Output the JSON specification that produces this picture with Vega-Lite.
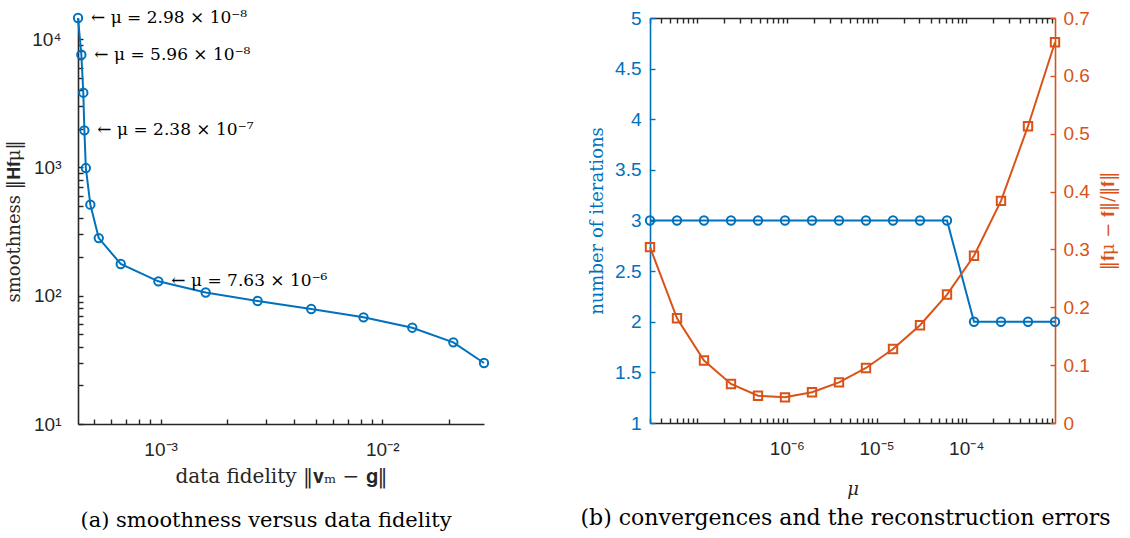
{
  "$schema": "https://vega.github.io/schema/vega-lite/v6.json",
  "background": "white",
  "padding": {"left": 5, "top": 9, "right": 5, "bottom": 5},
  "bounds": "flush",
  "spacing": 166,
  "config": {
    "view": {"stroke": null},
    "axis": {
      "grid": false,
      "domainColor": "#262626",
      "tickColor": "#262626",
      "labelColor": "#262626",
      "titleColor": "#262626",
      "domainWidth": 1.6,
      "tickWidth": 1.4,
      "tickSize": -5,
      "labelFont": "Liberation Sans",
      "labelFontSize": 19,
      "titleFont": "DejaVu Serif",
      "titleFontSize": 18,
      "titleFontWeight": "normal",
      "labelOverlap": false,
      "labelFlush": false
    }
  },
  "datasets": {
    "lcurve": [
      {"fidelity": 0.000424, "smoothness": 14590, "label": "← μ = 2.98 × 10⁻⁸"},
      {"fidelity": 0.000439, "smoothness": 7550, "label": "← μ = 5.96 × 10⁻⁸"},
      {"fidelity": 0.000448, "smoothness": 3818, "label": ""},
      {"fidelity": 0.000453, "smoothness": 1944, "label": "← μ = 2.38 × 10⁻⁷"},
      {"fidelity": 0.000460, "smoothness": 988, "label": ""},
      {"fidelity": 0.000482, "smoothness": 512, "label": ""},
      {"fidelity": 0.000526, "smoothness": 281, "label": ""},
      {"fidelity": 0.000661, "smoothness": 176.5, "label": ""},
      {"fidelity": 0.000977, "smoothness": 129.4, "label": "← μ = 7.63 × 10⁻⁶"},
      {"fidelity": 0.001597, "smoothness": 105.9, "label": ""},
      {"fidelity": 0.00274, "smoothness": 90.9, "label": ""},
      {"fidelity": 0.00478, "smoothness": 78.7, "label": ""},
      {"fidelity": 0.00823, "smoothness": 67.8, "label": ""},
      {"fidelity": 0.01366, "smoothness": 56.3, "label": ""},
      {"fidelity": 0.02092, "smoothness": 43.3, "label": ""},
      {"fidelity": 0.02877, "smoothness": 29.9, "label": ""}
    ],
    "conv": [
      {"mu": 2.980e-8, "iter": 3, "err": 0.304},
      {"mu": 5.960e-8, "iter": 3, "err": 0.181},
      {"mu": 1.192e-7, "iter": 3, "err": 0.108},
      {"mu": 2.384e-7, "iter": 3, "err": 0.0674},
      {"mu": 4.768e-7, "iter": 3, "err": 0.0472},
      {"mu": 9.537e-7, "iter": 3, "err": 0.0444},
      {"mu": 1.907e-6, "iter": 3, "err": 0.0531},
      {"mu": 3.815e-6, "iter": 3, "err": 0.0703},
      {"mu": 7.629e-6, "iter": 3, "err": 0.0951},
      {"mu": 1.526e-5, "iter": 3, "err": 0.128},
      {"mu": 3.052e-5, "iter": 3, "err": 0.169},
      {"mu": 6.104e-5, "iter": 3, "err": 0.222},
      {"mu": 1.221e-4, "iter": 2, "err": 0.289},
      {"mu": 2.441e-4, "iter": 2, "err": 0.384},
      {"mu": 4.883e-4, "iter": 2, "err": 0.513},
      {"mu": 9.766e-4, "iter": 2, "err": 0.658}
    ]
  },
  "hconcat": [
    {
      "width": 406,
      "height": 406,
      "title": {"text": "(a) smoothness versus data fidelity", "orient": "bottom", "font": "DejaVu Serif", "fontSize": 21, "fontWeight": "normal", "color": "black", "offset": 24, "dx": -15},
      "data": {"name": "lcurve"},
      "resolve": {"axis": {"x": "independent", "y": "independent"}},
      "layer": [
        {
          "mark": {"type": "line", "color": "#0072BD", "strokeWidth": 2},
          "encoding": {
            "x": {
              "field": "fidelity", "type": "quantitative",
              "scale": {"type": "log", "domain": [0.000424, 0.02877], "nice": false},
              "axis": {
                "orient": "bottom",
                "title": "data fidelity ‖𝐯ₘ − 𝐠‖",
                "titleFontSize": 20,
                "values": [0.0005, 0.0006, 0.0007, 0.0008, 0.0009, 0.001, 0.002, 0.003, 0.004, 0.005, 0.006, 0.007, 0.008, 0.009, 0.01, 0.02],
                "labelExpr": "abs(datum.value - 0.001) < 1e-9 ? '10⁻³' : abs(datum.value - 0.01) < 1e-8 ? '10⁻²' : ''",
                "labelPadding": 21,
                "titlePadding": 7
              }
            },
            "y": {
              "field": "smoothness", "type": "quantitative",
              "scale": {"type": "log", "domain": [10, 14590], "nice": false},
              "axis": {
                "orient": "left",
                "title": "smoothness ‖𝐇𝐟μ‖",
                "values": [10, 20, 30, 40, 50, 60, 70, 80, 90, 100, 200, 300, 400, 500, 600, 700, 800, 900, 1000, 2000, 3000, 4000, 5000, 6000, 7000, 8000, 9000, 10000],
                "labelExpr": "datum.value == 10 ? '10¹' : datum.value == 100 ? '10²' : datum.value == 1000 ? '10³' : datum.value == 10000 ? '10⁴' : ''",
                "labelPadding": 22,
                "titlePadding": 8
              }
            }
          }
        },
        {
          "mark": {"type": "point", "shape": "circle", "filled": false, "color": "#0072BD", "size": 70, "strokeWidth": 2, "opacity": 1},
          "encoding": {
            "x": {"field": "fidelity", "type": "quantitative", "scale": {"type": "log", "domain": [0.000424, 0.02877], "nice": false}, "axis": null},
            "y": {"field": "smoothness", "type": "quantitative", "scale": {"type": "log", "domain": [10, 14590], "nice": false}, "axis": null}
          }
        },
        {
          "transform": [{"filter": "datum.label != ''"}],
          "mark": {"type": "text", "align": "left", "baseline": "middle", "dx": 13, "font": "DejaVu Serif", "fontSize": 17, "color": "black"},
          "encoding": {
            "x": {"field": "fidelity", "type": "quantitative", "scale": {"type": "log", "domain": [0.000424, 0.02877], "nice": false}, "axis": null},
            "y": {"field": "smoothness", "type": "quantitative", "scale": {"type": "log", "domain": [10, 14590], "nice": false}, "axis": null},
            "text": {"field": "label"}
          }
        }
      ]
    },
    {
      "width": 405,
      "height": 405,
      "title": {"text": "(b) convergences and the reconstruction errors", "orient": "bottom", "font": "DejaVu Serif", "fontSize": 22, "fontWeight": "normal", "color": "black", "offset": 10, "dx": -7},
      "data": {"name": "conv"},
      "resolve": {"scale": {"y": "independent"}, "axis": {"x": "independent"}},
      "layer": [
        {
          "mark": {"type": "line", "color": "#0072BD", "strokeWidth": 2},
          "encoding": {
            "x": {
              "field": "mu", "type": "quantitative",
              "scale": {"type": "log", "domain": [2.98e-8, 9.766e-4], "nice": false},
              "axis": {
                "orient": "bottom",
                "title": "μ",
                "titleFontStyle": "italic",
                "values": [3e-8, 4e-8, 5e-8, 6e-8, 7e-8, 8e-8, 9e-8, 1e-7, 2e-7, 3e-7, 4e-7, 5e-7, 6e-7, 7e-7, 8e-7, 9e-7, 1e-6, 2e-6, 3e-6, 4e-6, 5e-6, 6e-6, 7e-6, 8e-6, 9e-6, 1e-5, 2e-5, 3e-5, 4e-5, 5e-5, 6e-5, 7e-5, 8e-5, 9e-5, 1e-4, 2e-4, 3e-4, 4e-4, 5e-4, 6e-4, 7e-4, 8e-4, 9e-4],
                "labelExpr": "abs(datum.value - 1e-6) < 1e-12 ? '10⁻⁶' : abs(datum.value - 1e-5) < 1e-11 ? '10⁻⁵' : abs(datum.value - 1e-4) < 1e-10 ? '10⁻⁴' : ''",
                "labelPadding": 21,
                "titlePadding": 22
              }
            },
            "y": {
              "field": "iter", "type": "quantitative",
              "scale": {"domain": [1, 5], "nice": false, "zero": false},
              "axis": {
                "orient": "left",
                "title": "number of iterations",
                "values": [1, 1.5, 2, 2.5, 3, 3.5, 4, 4.5, 5],
                "format": "~g",
                "domainColor": "#0072BD", "tickColor": "#0072BD", "labelColor": "#0072BD", "titleColor": "#0072BD",
                "labelPadding": 14,
                "titlePadding": 8
              }
            }
          }
        },
        {
          "mark": {"type": "point", "shape": "circle", "filled": false, "color": "#0072BD", "size": 70, "strokeWidth": 2, "opacity": 1},
          "encoding": {
            "x": {"field": "mu", "type": "quantitative", "scale": {"type": "log", "domain": [2.98e-8, 9.766e-4], "nice": false}, "axis": null},
            "y": {"field": "iter", "type": "quantitative", "scale": {"domain": [1, 5], "nice": false, "zero": false}, "axis": null}
          }
        },
        {
          "mark": {"type": "line", "color": "#D95319", "strokeWidth": 2},
          "encoding": {
            "x": {
              "field": "mu", "type": "quantitative",
              "scale": {"type": "log", "domain": [2.98e-8, 9.766e-4], "nice": false},
              "axis": {
                "orient": "top",
                "title": null,
                "labels": false,
                "values": [3e-8, 4e-8, 5e-8, 6e-8, 7e-8, 8e-8, 9e-8, 1e-7, 2e-7, 3e-7, 4e-7, 5e-7, 6e-7, 7e-7, 8e-7, 9e-7, 1e-6, 2e-6, 3e-6, 4e-6, 5e-6, 6e-6, 7e-6, 8e-6, 9e-6, 1e-5, 2e-5, 3e-5, 4e-5, 5e-5, 6e-5, 7e-5, 8e-5, 9e-5, 1e-4, 2e-4, 3e-4, 4e-4, 5e-4, 6e-4, 7e-4, 8e-4, 9e-4]
              }
            },
            "y": {
              "field": "err", "type": "quantitative",
              "scale": {"domain": [0, 0.7], "nice": false},
              "axis": {
                "orient": "right",
                "title": "‖𝐟μ − 𝐟‖/‖𝐟‖",
                "titleAngle": 270,
                "titleBaseline": "top",
                "values": [0, 0.1, 0.2, 0.3, 0.4, 0.5, 0.6, 0.7],
                "format": "~g",
                "domainColor": "#D95319", "tickColor": "#D95319", "labelColor": "#D95319", "titleColor": "#D95319",
                "labelPadding": 13,
                "titlePadding": 10
              }
            }
          }
        },
        {
          "mark": {"type": "point", "shape": "square", "filled": false, "color": "#D95319", "size": 70, "strokeWidth": 2, "opacity": 1},
          "encoding": {
            "x": {"field": "mu", "type": "quantitative", "scale": {"type": "log", "domain": [2.98e-8, 9.766e-4], "nice": false}, "axis": null},
            "y": {"field": "err", "type": "quantitative", "scale": {"domain": [0, 0.7], "nice": false}, "axis": null}
          }
        }
      ]
    }
  ]
}
